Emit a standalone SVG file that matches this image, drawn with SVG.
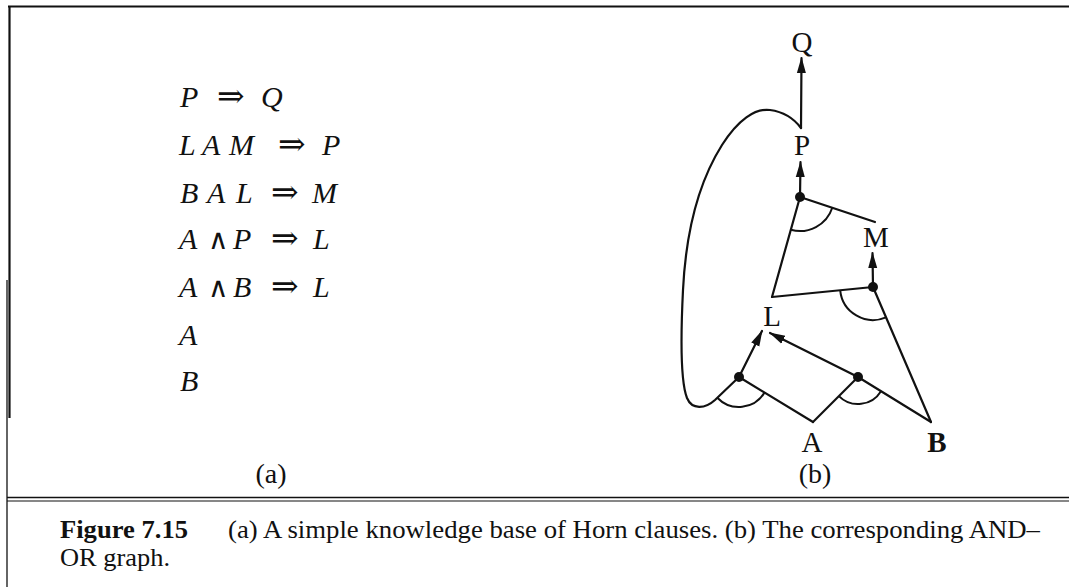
<svg xmlns="http://www.w3.org/2000/svg" width="1069" height="587" viewBox="0 0 1069 587">
<style>
.frame{stroke:#111;fill:none}
.ln{stroke:#111;stroke-width:2.2;fill:none;stroke-linecap:round}
.arc{stroke:#111;stroke-width:2;fill:none}
.dot{fill:#111}
.f{font-family:"Liberation Serif","DejaVu Serif",serif;font-style:italic;font-size:30px;fill:#111}
.op{font-family:"DejaVu Serif","Liberation Serif",serif;font-style:normal;font-size:33px;fill:#111}
.and{font-family:"DejaVu Serif","Liberation Serif",serif;font-style:normal;font-size:28px;fill:#111}
.lab{font-family:"Liberation Serif","DejaVu Serif",serif;font-size:29px;fill:#111;text-anchor:middle}
.cap{font-family:"Liberation Serif","DejaVu Serif",serif;font-size:26px;fill:#111}
</style>
<defs>
<marker id="ah" markerUnits="userSpaceOnUse" markerWidth="16" markerHeight="12" viewBox="0 0 16 12" refX="15" refY="6" orient="auto">
<path d="M0,1.5 L16,6 L0,10.5 Z" fill="#111"/>
</marker>
</defs>
<rect width="1069" height="587" fill="#fff"/>
<g id="frame">
<line class="frame" x1="8" y1="6.5" x2="1069" y2="6.5" stroke-width="2"/>
<line class="frame" x1="9.5" y1="6" x2="9.5" y2="418" stroke-width="2.2"/>
<line class="frame" x1="7" y1="280" x2="7" y2="587" stroke-width="1.3"/>
<line class="frame" x1="7" y1="497.5" x2="1069" y2="497.5" stroke-width="1.6"/>
<line class="frame" x1="7" y1="501" x2="1069" y2="501" stroke-width="1.2"/>
</g>
<g id="kb">
<text class="f" y="107"><tspan x="180">P</tspan><tspan class="op" x="217">⇒</tspan><tspan x="261">Q</tspan></text>
<text class="f" y="155"><tspan x="179">L</tspan><tspan x="202">A</tspan><tspan x="229">M</tspan><tspan class="op" x="278">⇒</tspan><tspan x="322">P</tspan></text>
<text class="f" y="203"><tspan x="180">B</tspan><tspan x="207">A</tspan><tspan x="236">L</tspan><tspan class="op" x="271">⇒</tspan><tspan x="312">M</tspan></text>
<text class="f" y="249"><tspan x="179">A</tspan><tspan class="and" x="208">∧</tspan><tspan x="233">P</tspan><tspan class="op" x="271">⇒</tspan><tspan x="313">L</tspan></text>
<text class="f" y="297"><tspan x="179">A</tspan><tspan class="and" x="208">∧</tspan><tspan x="233">B</tspan><tspan class="op" x="271">⇒</tspan><tspan x="313">L</tspan></text>
<text class="f" x="179" y="345">A</text>
<text class="f" x="180" y="391">B</text>
<text class="lab" x="271" y="483" style="font-size:28px">(a)</text>
</g>
<g id="connectors">
<path class="ln" d="M739,377 L715,400 C705,409 692,410 687,398 C680,380 681,330 683,290 C686,230 700,180 722,145 C738,120 755,108 770,110 C785,112 795,120 801,128"/>
<line class="ln" x1="801" y1="128" x2="801.5" y2="58" marker-end="url(#ah)"/>
<line class="ln" x1="800" y1="197" x2="800.5" y2="162" marker-end="url(#ah)"/>
<line class="ln" x1="873" y1="287" x2="872.5" y2="253" marker-end="url(#ah)"/>
<line class="ln" x1="739" y1="377" x2="762" y2="331" marker-end="url(#ah)"/>
<line class="ln" x1="858" y1="377" x2="770" y2="333" marker-end="url(#ah)"/>
<line class="ln" x1="800" y1="197" x2="875" y2="222"/>
<line class="ln" x1="800" y1="197" x2="772" y2="297"/>
<line class="ln" x1="772" y1="297" x2="873" y2="287"/>
<line class="ln" x1="873" y1="287" x2="931" y2="422"/>
<line class="ln" x1="739" y1="377" x2="813" y2="422"/>
<line class="ln" x1="858" y1="377" x2="813" y2="422"/>
<line class="ln" x1="858" y1="377" x2="931" y2="422"/>
<path class="arc" d="M790.8,229.7 A34,34 0 0 0 832.3,207.7"/>
<path class="arc" d="M840.2,290.3 A33,33 0 0 0 886,317.3"/>
<path class="arc" d="M717.3,397.8 A30,30 0 0 0 764.6,392.6"/>
<path class="arc" d="M838.9,396.1 A27,27 0 0 0 881,391.2"/>
</g>
<g id="and-P"><circle class="dot" cx="800" cy="197" r="5"/></g>
<g id="and-M"><circle class="dot" cx="873" cy="287" r="5"/></g>
<g id="and-AP"><circle class="dot" cx="739" cy="377" r="5"/></g>
<g id="and-AB"><circle class="dot" cx="858" cy="377" r="5"/></g>
<g id="node-Q"><text class="lab" x="802" y="52">Q</text></g>
<g id="node-P"><text class="lab" x="802" y="155">P</text></g>
<g id="node-M"><text class="lab" x="876" y="247">M</text></g>
<g id="node-L"><text class="lab" x="772" y="326">L</text></g>
<g id="node-A"><text class="lab" x="812" y="452">A</text></g>
<g id="node-B"><text class="lab" x="937" y="452" style="font-weight:bold">B</text></g>
<text class="lab" x="815" y="483" style="font-size:28px">(b)</text>
<g id="caption">
<text class="cap" x="60" y="538" font-weight="bold" textLength="128" lengthAdjust="spacingAndGlyphs">Figure 7.15</text>
<text class="cap" x="228" y="538" textLength="812" lengthAdjust="spacingAndGlyphs">(a) A simple knowledge base of Horn clauses. (b) The corresponding AND–</text>
<text class="cap" x="60" y="566" textLength="110" lengthAdjust="spacingAndGlyphs">OR graph.</text>
</g>
</svg>
